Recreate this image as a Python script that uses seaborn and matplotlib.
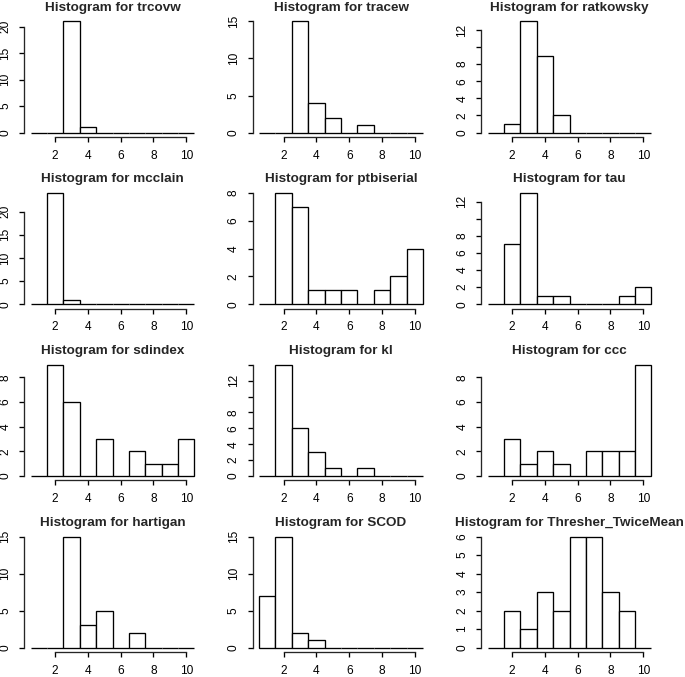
"""
Grid of R-style histograms, one per clustering index.
"""

import numpy as np
import pandas as pd
import matplotlib
matplotlib.use("Agg")
import matplotlib.pyplot as plt
import seaborn as sns

# Number of clusters chosen (1..10) and how often each index picked it
clusters = [1, 2, 3, 4, 5, 6, 7, 8, 9, 10]

trcovw = [0, 0, 21, 1, 0, 0, 0, 0, 0, 0]
tracew = [0, 0, 15, 4, 2, 0, 1, 0, 0, 0]
ratkowsky = [0, 1, 13, 9, 2, 0, 0, 0, 0, 0]
mcclain = [0, 24, 1, 0, 0, 0, 0, 0, 0, 0]
ptbiserial = [0, 8, 7, 1, 1, 1, 0, 1, 2, 4]
tau = [0, 7, 13, 1, 1, 0, 0, 0, 1, 2]
sdindex = [0, 9, 6, 0, 3, 0, 2, 1, 1, 3]
kl = [0, 14, 6, 3, 1, 0, 1, 0, 0, 0]
ccc = [0, 3, 1, 2, 1, 0, 2, 2, 2, 9]
hartigan = [0, 0, 15, 3, 5, 0, 2, 0, 0, 0]
scod = [7, 15, 2, 1, 0, 0, 0, 0, 0, 0]
thresher = [0, 2, 1, 3, 2, 6, 6, 3, 2, 0]

panels = [
    ("trcovw", trcovw), ("tracew", tracew), ("ratkowsky", ratkowsky),
    ("mcclain", mcclain), ("ptbiserial", ptbiserial), ("tau", tau),
    ("sdindex", sdindex), ("kl", kl), ("ccc", ccc),
    ("hartigan", hartigan), ("SCOD", scod), ("Thresher_TwiceMean", thresher),
]

x_ticks = [2, 4, 6, 8, 10]


def pretty_step(top, n=5):
    """R-like pretty() step for the range 0..top"""
    cell = top / n
    base = 10 ** np.floor(np.log10(cell))
    unit = base
    if 2 * base - cell < 1.5 * (cell - unit):
        unit = 2 * base
        if 5 * base - cell < 2.75 * (cell - unit):
            unit = 5 * base
            if 10 * base - cell < 1.5 * (cell - unit):
                unit = 10 * base
    return unit


def r_labels(ticks, px_per_unit, fs_px):
    """Drop labels that would overlap, like R's axis() does"""
    gap = 0.7 * fs_px
    labels = []
    last_pos, last_w = None, None
    for t in ticks:
        s = f"{t:g}"
        w = 0.556 * fs_px * len(s)
        pos = t * px_per_unit
        if last_pos is None or pos - last_pos >= (w + last_w) / 2 + gap:
            labels.append(s)
            last_pos, last_w = pos, w
        else:
            labels.append("")
    return labels


sns.set_style("ticks")
plt.rcParams['font.family'] = ['Liberation Sans', 'DejaVu Sans']

W, H, DPI = 685, 677, 100
fig = plt.figure(figsize=(W / DPI, H / DPI), dpi=DPI)

col_left = [24, 252.5, 481]
row_top = [17, 188.7, 360.4, 532.1]
ax_w, ax_h = 177, 120
label_pt = 8.6
label_px = 8.8 * DPI / 72
edges = np.arange(0.5, 11.5, 1)

for i, (name, counts) in enumerate(panels):
    r, c = divmod(i, 3)
    left = col_left[c] / W
    bottom = 1 - (row_top[r] + ax_h) / H
    ax = fig.add_axes([left, bottom, ax_w / W, ax_h / H])

    df = pd.DataFrame({'k': clusters, 'n': counts})
    sns.histplot(data=df, x='k', weights='n', bins=list(edges), ax=ax,
                 color='white', edgecolor='black', linewidth=0.95, alpha=1)

    top = max(counts)
    ax.set_xlim(0.1, 10.9)
    ax.set_ylim(-0.04 * top, 1.04 * top)

    step = pretty_step(top)
    y_ticks = np.arange(0, top + 1e-9, step)
    ax.set_xticks(x_ticks)
    ax.set_xticklabels([str(t) for t in x_ticks])
    ax.set_yticks(y_ticks)
    px_per_unit = ax_h / (1.08 * top)
    ax.set_yticklabels(r_labels(y_ticks, px_per_unit, label_px),
                       rotation=90, va='center')

    ax.spines['top'].set_visible(False)
    ax.spines['right'].set_visible(False)
    ax.spines['left'].set_bounds(0, y_ticks[-1])
    ax.spines['bottom'].set_bounds(x_ticks[0], x_ticks[-1])
    for s in ['left', 'bottom']:
        ax.spines[s].set_linewidth(0.95)
    ax.tick_params(length=3.6, width=0.95, labelsize=label_pt, colors='black')
    ax.tick_params(axis='y', pad=5.5)
    ax.tick_params(axis='x', pad=5.5)

    ax.set_xlabel("")
    ax.set_ylabel("")
    ax.set_title(f"Histogram for {name}", fontsize=9.7, fontweight='bold',
                 pad=4.5)

fig.savefig("out.png", dpi=DPI, facecolor='white')
